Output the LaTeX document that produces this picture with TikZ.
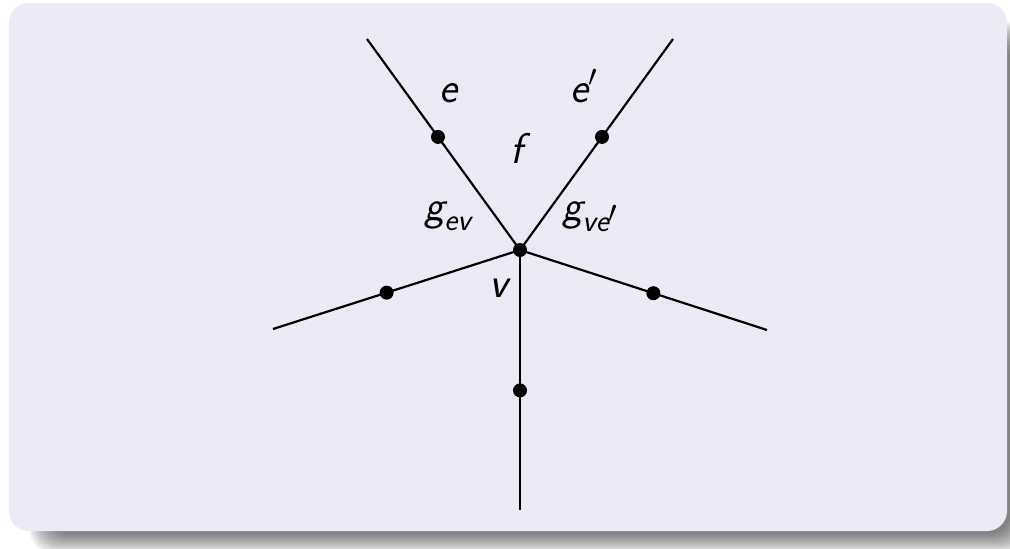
\RequirePackage{fix-cm}
\documentclass[tikz,border=0pt]{standalone}
\usepackage{amsmath}
\usetikzlibrary{calc}
\definecolor{boxfill}{RGB}{235,235,247}
\DeclareMathSizes{43}{43}{31}{24}
\newcommand\si[1]{\text{\sffamily\itshape #1}}
\begin{document}
\begin{tikzpicture}[x=1pt,y=-1pt,
  edge/.style={line width=2.2pt,black},
  dot/.style={circle,fill=black,inner sep=0pt,minimum size=14pt},
  lab/.style={anchor=base west,inner sep=0pt,font=\fontsize{43}{50}\selectfont\sffamily\itshape}]
\useasboundingbox (0,0) rectangle (1010,549);
\clip (0,0) rectangle (1010,549);
\fill[white] (0,0) rectangle (1010,549);
% shadow
\foreach \k in {0,...,11}{
  \fill[black,opacity=0.05,rounded corners=22pt]
    ({30+\k*1.7},{22+\k*1.7}) rectangle ({1030-\k*1.7},{553-\k*1.7});
}
% block body
\fill[boxfill,rounded corners=20pt] (9,3) rectangle (1007,531);
% graph
\coordinate (c) at (520,250);
\coordinate (tl) at (367,39);
\coordinate (tr) at (673,39);
\coordinate (le) at (273,329);
\coordinate (ri) at (767,330);
\coordinate (bo) at (520,510);
\draw[edge] (c) -- (tl);
\draw[edge] (c) -- (tr);
\draw[edge] (c) -- (le);
\draw[edge] (c) -- (ri);
\draw[edge] (c) -- (bo);
\node[dot] (v) at (c) {};
\node[dot] (dtl) at ($(c)!0.536!(tl)$) {};
\node[dot] (dtr) at ($(c)!0.536!(tr)$) {};
\node[dot] (dle) at ($(c)!0.54!(le)$) {};
\node[dot] (dri) at ($(c)!0.54!(ri)$) {};
\node[dot] (dbo) at ($(c)!0.54!(bo)$) {};
% labels
\node[lab] (le1) at (439,102) {e};
\node[lab] (le2) at (570,102) {$\si{e}'$};
\node[lab] (lf) at (510,163) {f};
\node[lab] (lgev) at (424,220) {$\si{g}_{\si{ev}}$};
\node[lab] (lgve) at (562,220) {$\si{g}_{\si{ve}^{\scriptstyle\prime}}$};
\node[lab] (lv) at (489,297) {v};
\end{tikzpicture}
\end{document}
